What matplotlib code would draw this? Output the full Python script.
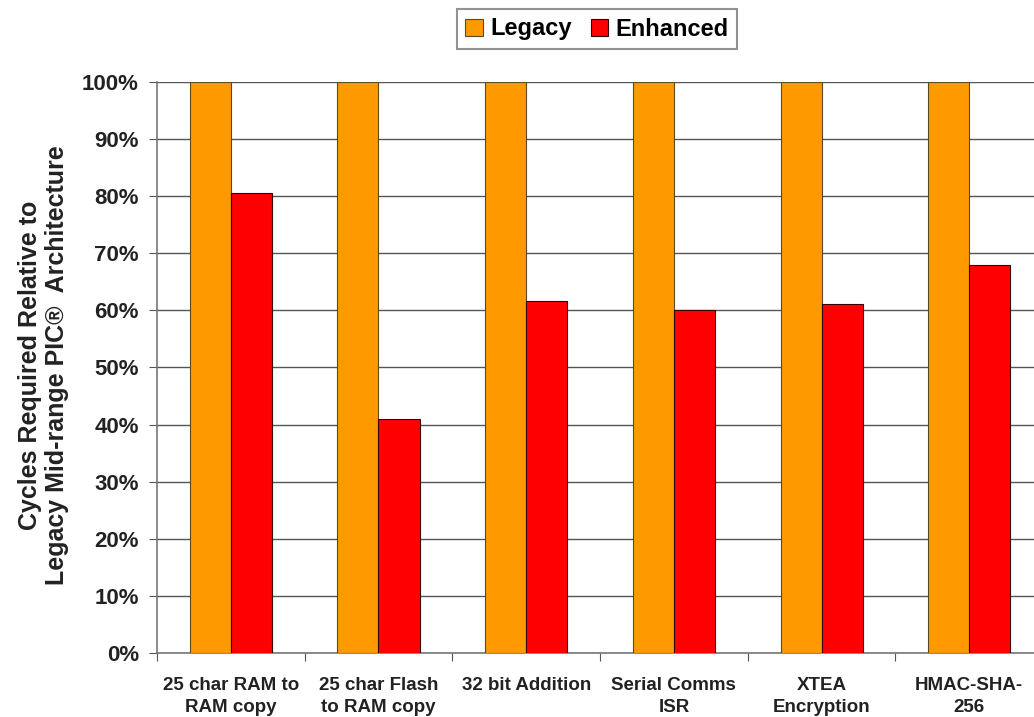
import numpy as np
import matplotlib.pyplot as plt
from matplotlib.ticker import PercentFormatter

# Datos
categories = ["25 char RAM to\nRAM copy", "25 char Flash\nto RAM copy", "32 bit Addition",
              "Serial Comms\nISR", "XTEA\nEncryption", "HMAC-SHA-\n256"]
legacy = [100, 100, 100, 100, 100, 100]
enhanced = [80.6, 41.0, 61.6, 60.1, 61.1, 67.9]

plt.rcParams['font.family'] = ['Liberation Sans', 'DejaVu Sans']

fig = plt.figure(figsize=(10.34, 7.17), dpi=100)
ax = fig.add_axes([0.1518, 0.0893, 0.857, 0.7963])

x = np.arange(len(categories))
w = 0.278
ax.bar(x - w / 2, legacy, w, color='#FF9900', edgecolor='#5a4a20', linewidth=0.8,
       label='Legacy', zorder=3)
ax.bar(x + w / 2, enhanced, w, color='#FF0000', edgecolor='#3a0000', linewidth=0.8,
       label='Enhanced', zorder=3)

ax.set_xlim(-0.5, len(categories) - 0.5)
ax.set_ylim(0, 100)
ax.set_yticks(np.arange(0, 101, 10))
ax.yaxis.set_major_formatter(PercentFormatter(decimals=0))
ax.grid(axis='y', color='#555555', linewidth=1, zorder=0)

# marcas del eje x entre categorías
ax.set_xticks(np.arange(-0.5, len(categories), 1))
ax.set_xticklabels([])
ax.set_xticks(x, minor=True)
ax.set_xticklabels(categories, minor=True, fontsize=13.5, fontweight='bold',
                   color='#222222', linespacing=1.45)
ax.tick_params(axis='x', which='minor', length=0, pad=17)
ax.tick_params(axis='x', which='major', length=6, color='#555555')
ax.tick_params(axis='y', length=6, color='#555555', labelsize=16, pad=7,
               labelcolor='#222222')
for lbl in ax.get_yticklabels():
    lbl.set_fontweight('bold')

for s in ['top', 'right']:
    ax.spines[s].set_visible(False)
for s in ['left', 'bottom']:
    ax.spines[s].set_color('#777777')
    ax.spines[s].set_linewidth(1.2)

ax.set_ylabel("Cycles Required Relative to\nLegacy Mid-range PIC\u00ae  Architecture",
              fontsize=18, fontweight='bold', color='#222222', linespacing=1.15)
ax.yaxis.set_label_coords(-0.099, 0.504)

leg = fig.legend(loc='center', bbox_to_anchor=(597 / 1034, 1 - 29 / 717), ncol=2,
                 prop={'size': 17, 'weight': 'bold'}, frameon=True, fancybox=False,
                 handlelength=0.75, handleheight=0.75, handletextpad=0.3,
                 columnspacing=0.8, borderpad=0.35, edgecolor='#777777')
leg.get_frame().set_linewidth(1.5)

fig.savefig('out.png', dpi=100)
